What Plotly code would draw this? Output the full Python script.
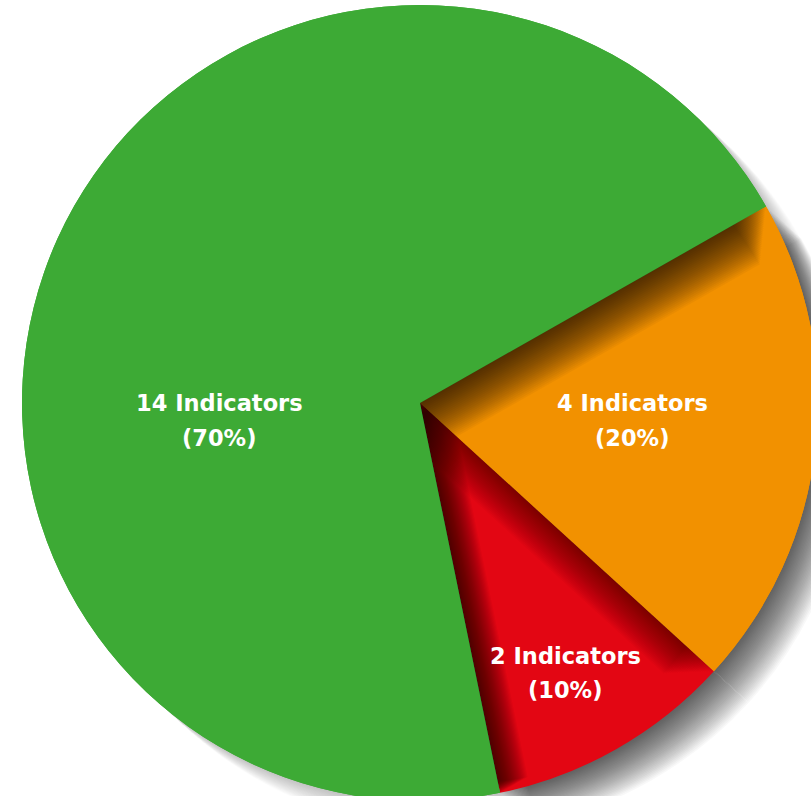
import math
import plotly.graph_objects as go

# Data
labels = ["4 Indicators", "2 Indicators", "14 Indicators"]
values = [4, 2, 14]
percents = ["(20%)", "(10%)", "(70%)"]
colors = ["#F29100", "#E30613", "#3DAA35"]

# Canvas larger than the window (padded on every side); the page hides the overflow
PAD = 50
W, H = 811 + 2 * PAD + 40, 796 + 2 * PAD + 40
cx, cy, r = 420 + PAD, 403 + PAD, 398  # pie centre / radius in canvas pixels
ROT = 60.4

def dom(dx=0.0, dy=0.0, shrink=False):
    rr = r - math.hypot(dx, dy) if shrink else r
    yb = H - (cy + dy)
    return dict(x=[(cx + dx - rr) / W, (cx + dx + rr) / W],
                y=[(yb - rr) / H, (yb + rr) / H])

def pie(cols, d, hover=False):
    return go.Pie(
        labels=labels, values=values, sort=False, direction="clockwise",
        rotation=ROT, textinfo="none",
        hoverinfo="label+value" if hover else "skip",
        marker=dict(colors=cols, line=dict(width=0)),
        domain=d, showlegend=False,
    )

T = "rgba(0,0,0,0)"
fig = go.Figure()

# 1. soft drop shadow (stronger under the raised orange / red slices)
N = 30
for k in range(N, 0, -1):
    off = k * 1.45
    a = "rgba(0,0,0,0.028)"
    g = "rgba(0,0,0,0.008)"
    fig.add_trace(pie([a, a, g], dom(off * 0.8, off * 0.72)))

# 2. main pie
fig.add_trace(pie(colors, dom(), hover=True))

# 3. shade cast by orange onto red
for k in range(22, 0, -1):
    off = k * 1.6
    fig.add_trace(pie(["rgba(0,0,0,0.024)", T, T],
                      dom(-off * 0.68, off * 0.74, shrink=True)))

# 4. orange redrawn
fig.add_trace(pie([colors[0], T, T], dom()))

# 5. shade cast by green onto orange / red
for k in range(26, 0, -1):
    off = k * 1.7
    fig.add_trace(pie([T, T, "rgba(0,0,0,0.035)"],
                      dom(off * 0.85, off * 0.75, shrink=True)))

# 6. green redrawn
fig.add_trace(pie([T, T, colors[2]], dom()))

label_pos = [(632, 403, 438), (565, 656, 690), (219, 403, 438)]
for lab, pct, (x, y1, y2) in zip(labels, percents, label_pos):
    for txt, y in ((lab, y1), (pct, y2)):
        fig.add_annotation(
            x=(x + PAD) / W, y=1 - (y + PAD) / H, xref="paper", yref="paper",
            text=txt, showarrow=False,
            font=dict(family="DejaVu Sans, Arial, sans-serif", size=22.5,
                      color="white", weight="bold"),
            xanchor="center", yanchor="middle",
        )

fig.update_layout(
    width=W, height=H, margin=dict(l=0, r=0, t=0, b=0),
    paper_bgcolor="white", plot_bgcolor="white", showlegend=False,
)

fig.write_html(
    "out.html",
    config={"displayModeBar": False},
    post_script="document.body.style.margin='0';"
                "document.body.style.overflow='hidden';"
                "document.documentElement.style.overflow='hidden';"
                "var gd=document.getElementById('{plot_id}');"
                f"gd.style.marginLeft='-{PAD}px';gd.style.marginTop='-{PAD}px';",
)
